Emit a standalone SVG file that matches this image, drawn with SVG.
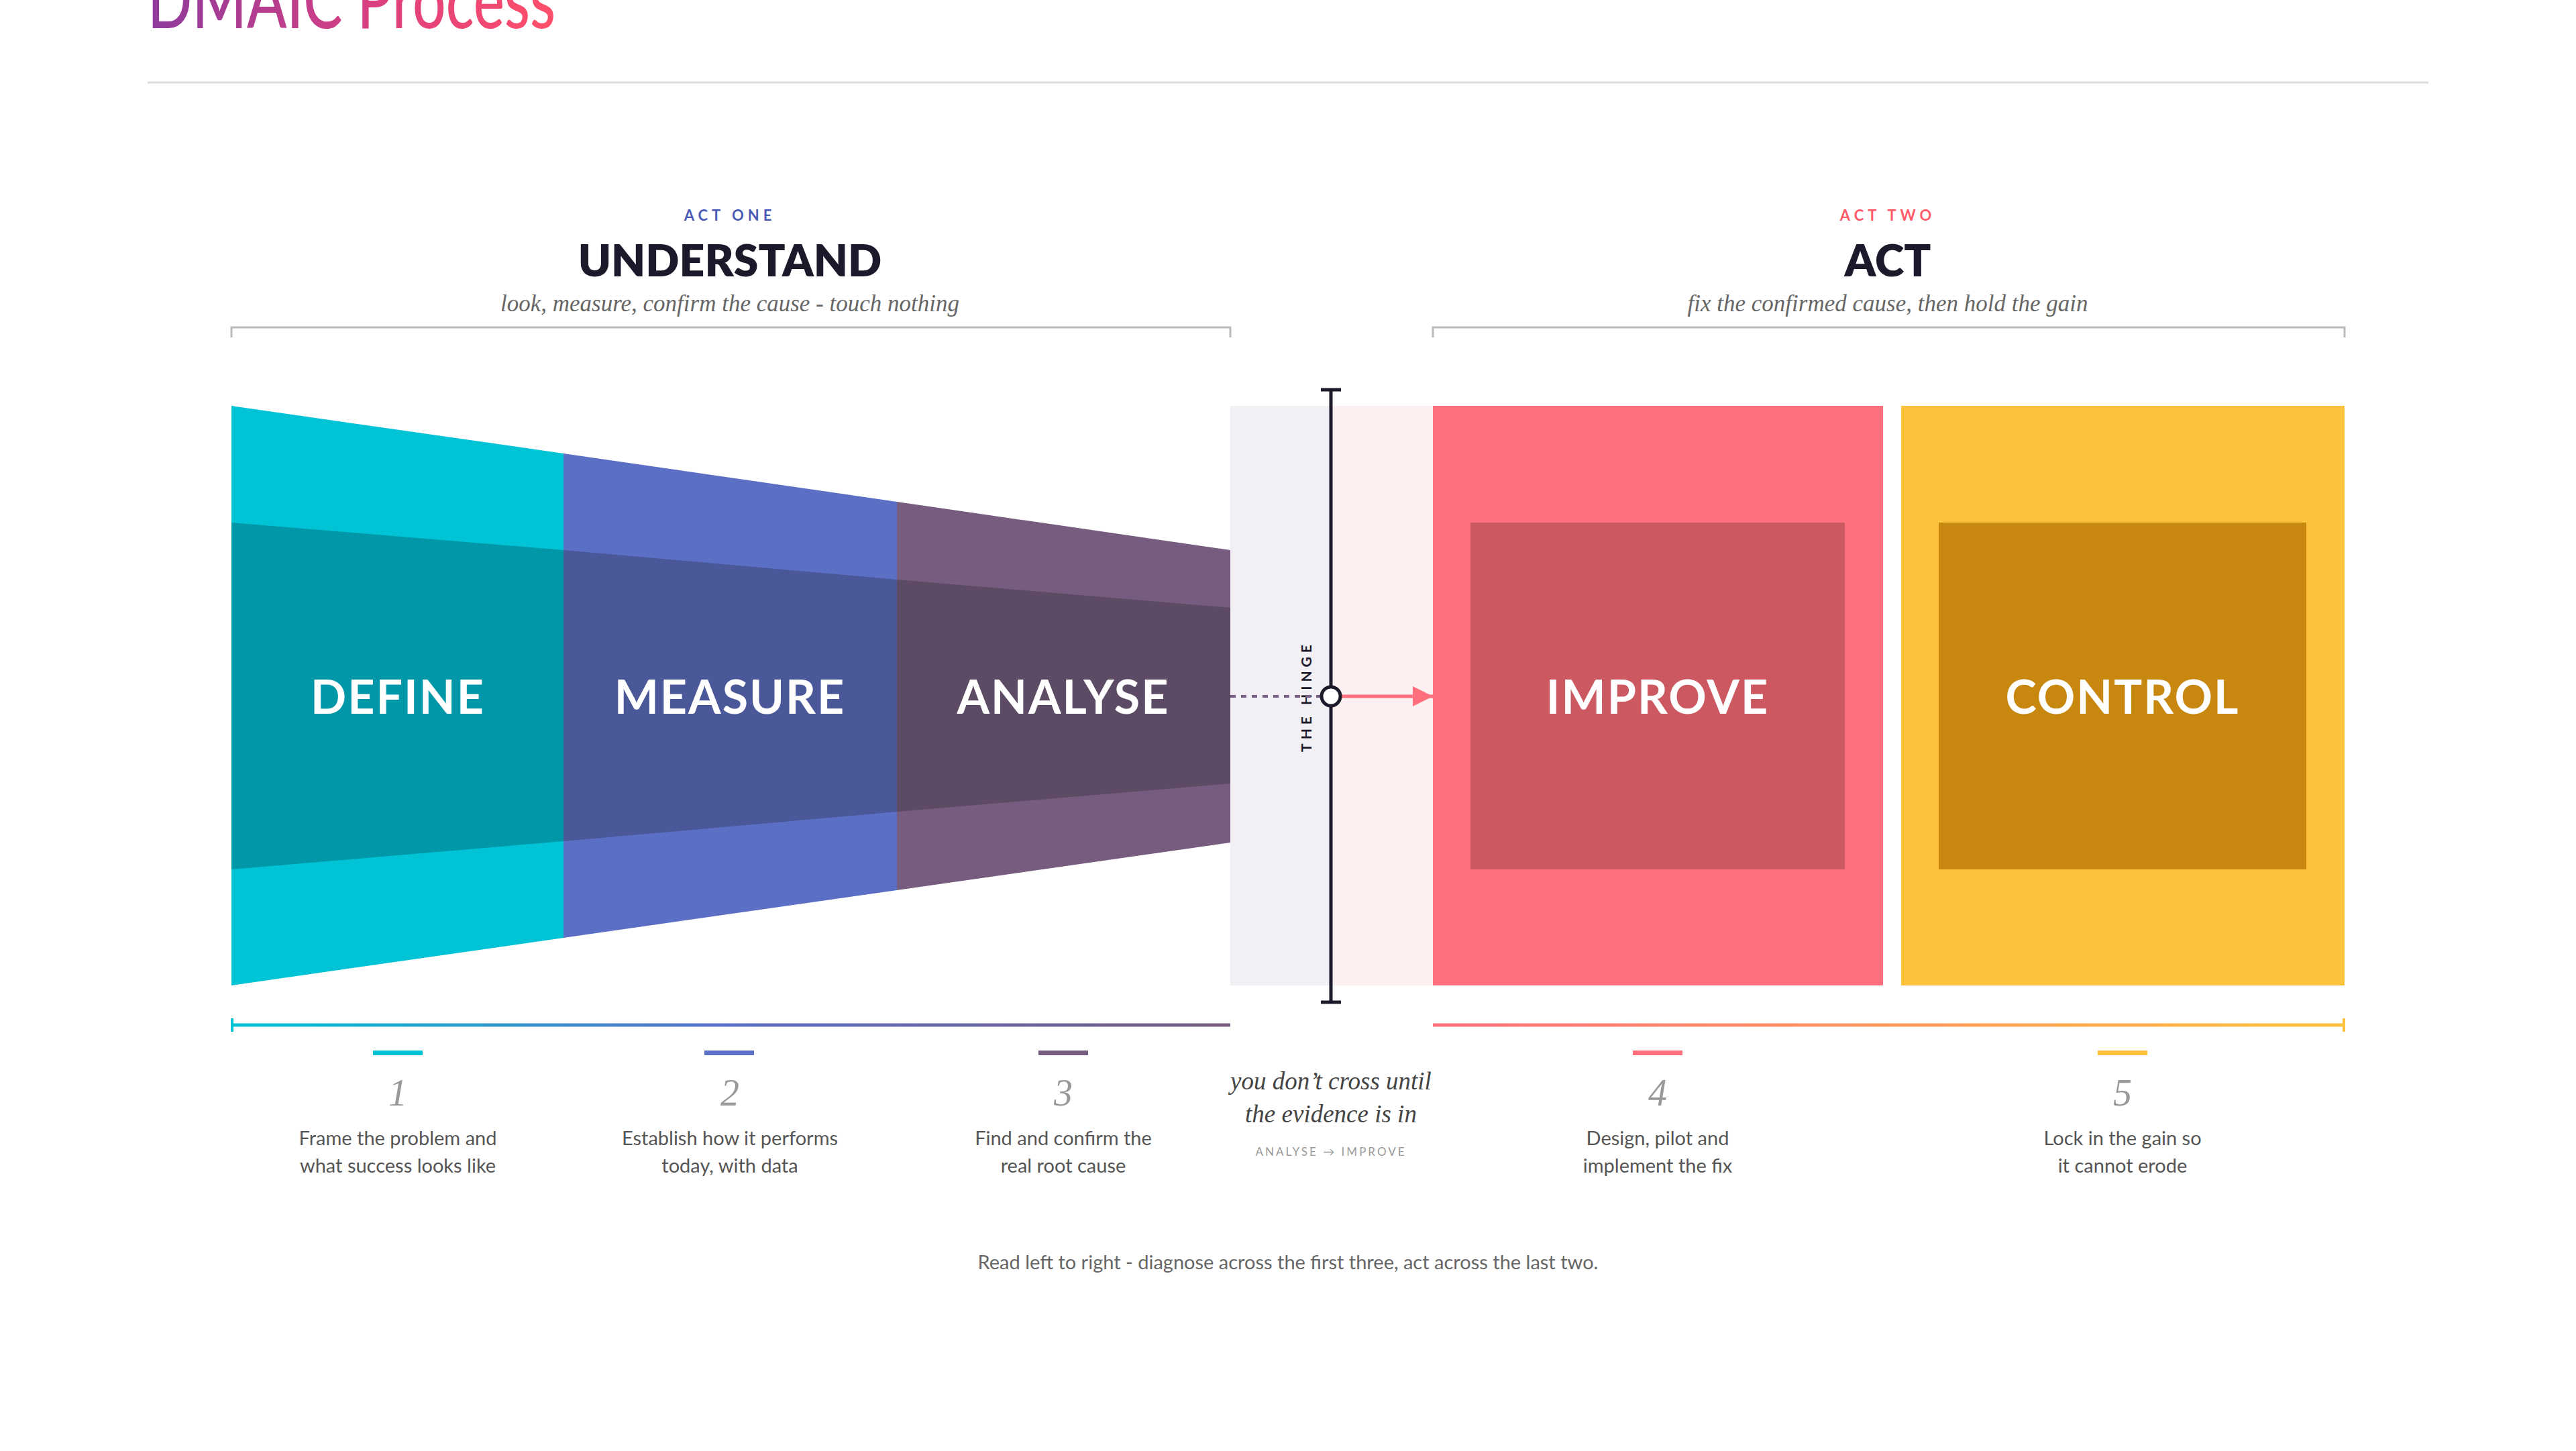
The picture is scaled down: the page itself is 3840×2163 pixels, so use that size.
<svg xmlns="http://www.w3.org/2000/svg" width="3840" height="2163" viewBox="0 0 3840 2163">
<defs>
<linearGradient id="tg" x1="0" x2="1"><stop offset="0" stop-color="#8E3A9D"/><stop offset="0.6" stop-color="#E0407E"/><stop offset="1" stop-color="#FF4F6A"/></linearGradient>
<linearGradient id="lg1" gradientUnits="userSpaceOnUse" x1="345" x2="1834" y1="0" y2="0"><stop offset="0" stop-color="#00C4D6"/><stop offset="0.5" stop-color="#5B6FC4"/><stop offset="1" stop-color="#765C7E"/></linearGradient>
<linearGradient id="lg2" gradientUnits="userSpaceOnUse" x1="2136" x2="3495" y1="0" y2="0"><stop offset="0" stop-color="#FF6F7D"/><stop offset="1" stop-color="#FCC23D"/></linearGradient>
<marker id="ar" viewBox="0 0 10 10" refX="10" refY="5" markerWidth="6" markerHeight="6" markerUnits="strokeWidth" orient="auto"><path d="M0,0 L10,5 L0,10 z" fill="#FF6F7D"/></marker>
</defs>
<style>
.sans{font-family:Lato,"Open Sans","Liberation Sans",sans-serif}
.big{font-family:Lato,"Open Sans",sans-serif;font-weight:700;font-size:70px;fill:#fff;text-anchor:middle;letter-spacing:2px}
.kick{font-family:Lato,"Open Sans",sans-serif;font-size:22px;font-weight:700;letter-spacing:6px;text-anchor:middle}
.head{font-family:Lato,"Open Sans",sans-serif;font-size:66px;font-weight:800;fill:#1C1A2A;text-anchor:middle}
.sub{font-family:"Liberation Serif",serif;font-style:italic;font-size:35px;fill:#666;text-anchor:middle}
.num{font-family:"Liberation Serif",serif;font-style:italic;font-size:56px;fill:#999;text-anchor:middle}
.desc{font-family:Lato,"Open Sans",sans-serif;font-size:29px;fill:#555;text-anchor:middle}
.br{fill:none;stroke:#BBB;stroke-width:3}
</style>
<rect width="3840" height="2163" fill="#fff"/>
<text x="220" y="42" class="sans" font-size="118" fill="url(#tg)" font-weight="500" textLength="608" lengthAdjust="spacingAndGlyphs">DMAIC Process</text>
<line x1="220" y1="123" x2="3620" y2="123" stroke="#DDD" stroke-width="3"/>

<g id="act-one">
<text x="1088" y="329" class="kick" fill="#4A5BB5">ACT ONE</text>
<text x="1088" y="412" class="head">UNDERSTAND</text>
<text x="1088" y="464" class="sub">look, measure, confirm the cause - touch nothing</text>
<path class="br" d="M345,503 V488 H1834 V503"/>
</g>
<g id="act-two">
<text x="2814" y="329" class="kick" fill="#FF5A6A">ACT TWO</text>
<text x="2814" y="412" class="head">ACT</text>
<text x="2814" y="464" class="sub">fix the confirmed cause, then hold the gain</text>
<path class="br" d="M2136,503 V488 H3495 V503"/>
</g>

<g id="define">
<polygon points="345,605 840,676 840,1398 345,1469" fill="#00C4D6"/>
<polygon points="345,779 840,820 840,1254 345,1296" fill="#0097A8"/>
<text x="593" y="1064" class="big">DEFINE</text>
</g>
<g id="measure">
<polygon points="840,676 1337,748 1337,1327 840,1398" fill="#5B6FC4"/>
<polygon points="840,820 1337,864 1337,1210 840,1254" fill="#4A5799"/>
<text x="1088" y="1064" class="big">MEASURE</text>
</g>
<g id="analyse">
<polygon points="1337,748 1834,820 1834,1256 1337,1327" fill="#765C7E"/>
<polygon points="1337,864 1834,906 1834,1168 1337,1210" fill="#5D4A64"/>
<text x="1585" y="1064" class="big">ANALYSE</text>
</g>

<g id="hinge">
<rect x="1834" y="605" width="150" height="864" fill="#F2F0F4"/>
<rect x="1984" y="605" width="152" height="864" fill="#FDF0F0"/>
<text transform="translate(1955,1038) rotate(-90)" class="kick" fill="#1C1A2A" style="font-size:21px">THE HINGE</text>
</g>

<g id="improve">
<rect x="2136" y="605" width="671" height="864" fill="#FF6F7D"/>
<rect x="2192" y="779" width="558" height="517" fill="#CC5862"/>
<text x="2471" y="1064" class="big">IMPROVE</text>
</g>
<g id="control">
<rect x="2834" y="605" width="661" height="864" fill="#FCC23D"/>
<rect x="2890" y="779" width="548" height="517" fill="#C8880F"/>
<text x="3164" y="1064" class="big">CONTROL</text>
</g>

<g id="connectors">
<line x1="1834" y1="1038" x2="1968" y2="1038" stroke="#765C7E" stroke-width="4" stroke-dasharray="8,8"/>
<line x1="1984" y1="581" x2="1984" y2="1494" stroke="#1C1A2A" stroke-width="5"/>
<line x1="1969" y1="581" x2="1999" y2="581" stroke="#1C1A2A" stroke-width="5"/>
<line x1="1969" y1="1494" x2="1999" y2="1494" stroke="#1C1A2A" stroke-width="5"/>
<line x1="2000" y1="1038" x2="2136" y2="1038" stroke="#FF6F7D" stroke-width="5" marker-end="url(#ar)"/>
<circle cx="1984" cy="1038" r="14" fill="#fff" stroke="#1C1A2A" stroke-width="5"/>
<line x1="345" y1="1528" x2="1834" y2="1528" stroke="url(#lg1)" stroke-width="5"/>
<line x1="346" y1="1518" x2="346" y2="1538" stroke="#00C4D6" stroke-width="4"/>
<line x1="2136" y1="1528" x2="3495" y2="1528" stroke="url(#lg2)" stroke-width="5"/>
<line x1="3494" y1="1518" x2="3494" y2="1538" stroke="#FCC23D" stroke-width="4"/>
</g>

<g id="step1"><rect x="556" y="1566" width="74" height="7" fill="#00C4D6"/><text x="593" y="1648" class="num">1</text><text x="593" y="1707" class="desc">Frame the problem and</text><text x="593" y="1748" class="desc">what success looks like</text></g>
<g id="step2"><rect x="1050" y="1566" width="74" height="7" fill="#5B6FC4"/><text x="1088" y="1648" class="num">2</text><text x="1088" y="1707" class="desc">Establish how it performs</text><text x="1088" y="1748" class="desc">today, with data</text></g>
<g id="step3"><rect x="1548" y="1566" width="74" height="7" fill="#765C7E"/><text x="1585" y="1648" class="num">3</text><text x="1585" y="1707" class="desc">Find and confirm the</text><text x="1585" y="1748" class="desc">real root cause</text></g>
<g id="hinge-note">
<text x="1984" y="1624" class="sub" style="fill:#444;font-size:37px">you don’t cross until</text>
<text x="1984" y="1673" class="sub" style="fill:#444;font-size:37px">the evidence is in</text>
<text x="1984" y="1723" class="kick" fill="#999" style="font-size:17px;font-weight:400;letter-spacing:3px">ANALYSE → IMPROVE</text>
</g>
<g id="step4"><rect x="2434" y="1566" width="74" height="7" fill="#FF6F7D"/><text x="2471" y="1648" class="num">4</text><text x="2471" y="1707" class="desc">Design, pilot and</text><text x="2471" y="1748" class="desc">implement the fix</text></g>
<g id="step5"><rect x="3127" y="1566" width="74" height="7" fill="#FCC23D"/><text x="3164" y="1648" class="num">5</text><text x="3164" y="1707" class="desc">Lock in the gain so</text><text x="3164" y="1748" class="desc">it cannot erode</text></g>

<text x="1920" y="1892" class="desc" style="fill:#666">Read left to right - diagnose across the first three, act across the last two.</text>
</svg>
